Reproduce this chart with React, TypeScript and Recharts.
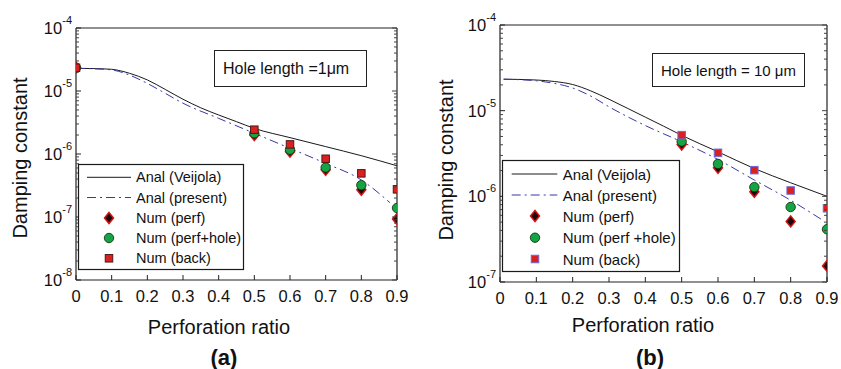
import React from "react";
import { ComposedChart, Line, Scatter, XAxis, YAxis, Legend, Label } from "recharts";

const FONT = '"Liberation Sans", Arial, Helvetica, sans-serif';
const H = 369;

const ratioTicks = [0, 0.1, 0.2, 0.3, 0.4, 0.5, 0.6, 0.7, 0.8, 0.9];
const decadesA = [1e-8, 1e-7, 1e-6, 1e-5, 1e-4];
const decadesB = [1e-7, 1e-6, 1e-5, 1e-4];
const mantissas = [2, 3, 4, 5, 6, 7, 8, 9];

// (a) hole length = 1 um
const veijolaXA = [0, 0.05, 0.1, 0.15, 0.2, 0.25, 0.3, 0.35, 0.4, 0.45, 0.5, 0.6, 0.7, 0.8, 0.9];
const veijolaA = [2.29e-5, 2.27e-5, 2.21e-5, 1.91e-5, 1.5e-5, 1.06e-5, 7.4e-6, 5.4e-6, 4.16e-6, 3.26e-6, 2.55e-6, 1.82e-6, 1.31e-6, 9.4e-7, 6.5e-7];
const presentXA = [0, 0.05, 0.1, 0.15, 0.2, 0.25, 0.3, 0.4, 0.5, 0.6, 0.7, 0.8, 0.88];
const presentA = [2.29e-5, 2.25e-5, 2.16e-5, 1.79e-5, 1.32e-5, 9.2e-6, 6.4e-6, 3.68e-6, 2.13e-6, 1.23e-6, 7.1e-7, 3.87e-7, 1.69e-7];
const numXA = [0, 0.5, 0.6, 0.7, 0.8, 0.9];
const perfA = [2.34e-5, 2.0e-6, 1.09e-6, 5.6e-7, 2.7e-7, 9.3e-8];
const holeA = [2.34e-5, 2.13e-6, 1.17e-6, 6.1e-7, 3.2e-7, 1.39e-7];
const backA = [2.34e-5, 2.43e-6, 1.42e-6, 8.4e-7, 4.93e-7, 2.75e-7];

// (b) hole length = 10 um
const veijolaXB = [0.01, 0.1, 0.15, 0.2, 0.25, 0.3, 0.35, 0.4, 0.45, 0.5, 0.6, 0.7, 0.8, 0.9];
const veijolaB = [2.33e-5, 2.28e-5, 2.19e-5, 2.02e-5, 1.7e-5, 1.36e-5, 1.07e-5, 8.4e-6, 6.6e-6, 5.15e-6, 3.31e-6, 2.11e-6, 1.44e-6, 1.0e-6];
const presentXB = [0.01, 0.1, 0.15, 0.2, 0.25, 0.3, 0.4, 0.5, 0.6, 0.7, 0.8, 0.89];
const presentB = [2.33e-5, 2.23e-5, 2.08e-5, 1.84e-5, 1.48e-5, 1.11e-5, 6.7e-6, 4.33e-6, 2.69e-6, 1.55e-6, 9.0e-7, 5.2e-7];
const numXB = [0.5, 0.6, 0.7, 0.8, 0.9];
const perfB = [4.03e-6, 2.15e-6, 1.13e-6, 5.1e-7, 1.54e-7];
const holeB = [4.36e-6, 2.39e-6, 1.28e-6, 7.5e-7, 4.13e-7];
const backB = [5.18e-6, 3.22e-6, 2.02e-6, 1.17e-6, 7.26e-7];

const zip = (xs: number[], ys: number[]) => xs.map((x, i) => ({ x, y: ys[i] }));

const isMajor = (v: number) => {
  const e = Math.log10(v);
  return Math.abs(e - Math.round(e)) < 1e-6;
};

const VEIJOLA = "#1a1a1a";
const PRESENT = "#3838a8";
const DASH = "9 4 2 4";

function Diamond({ cx, cy }: any) {
  if (cx == null || cy == null) return null;
  return (
    <path
      d={`M${cx},${cy - 5.5} L${cx + 4.5},${cy} L${cx},${cy + 5.5} L${cx - 4.5},${cy} Z`}
      fill="#1c0808"
      stroke="#d41414"
      strokeWidth={1.5}
    />
  );
}

function Dot({ cx, cy }: any) {
  if (cx == null || cy == null) return null;
  return <circle cx={cx} cy={cy} r={4.7} fill="#14a444" stroke="#143814" strokeWidth={0.9} />;
}

function makeSquare(edge: string, size: number) {
  return function Square({ cx, cy }: any) {
    if (cx == null || cy == null) return null;
    return (
      <rect
        x={cx - size / 2}
        y={cy - size / 2}
        width={size}
        height={size}
        fill="#dc2020"
        stroke={edge}
        strokeWidth={1}
      />
    );
  };
}

function BottomTick({ x, y, payload }: any) {
  const v = payload.value;
  return (
    <g>
      <line x1={x} y1={y} x2={x} y2={y - 5} stroke="#222" />
      <text x={x} y={y + 16} textAnchor="middle" dominantBaseline="central" fontSize={16.5} fontFamily={FONT} fill="#111">
        {v === 0 ? "0" : v.toFixed(1)}
      </text>
    </g>
  );
}

function TopTick({ x, y }: any) {
  return <line x1={x} y1={y} x2={x} y2={y + 5} stroke="#222" />;
}

function LeftTick({ x, y, payload }: any) {
  const v = payload.value;
  if (!isMajor(v)) return <line x1={x} y1={y} x2={x + 3} y2={y} stroke="#444" />;
  const exp = Math.round(Math.log10(v));
  return (
    <g>
      <line x1={x} y1={y} x2={x + 5} y2={y} stroke="#222" />
      <text x={x - 4} y={y} textAnchor="end" dominantBaseline="central" fontSize={16.5} fontFamily={FONT} fill="#111">
        10
        <tspan dy={-8} fontSize={11}>
          {exp}
        </tspan>
      </text>
    </g>
  );
}

function RightTick({ x, y, payload }: any) {
  const len = isMajor(payload.value) ? 5 : 3;
  return <line x1={x} y1={y} x2={x - len} y2={y} stroke="#444" />;
}

function LegendBox({ cfg }: any) {
  const { w, h, rows, lineX, markX, textX, fontSize, backEdge } = cfg.legend;
  const Sq = makeSquare(backEdge, 7.5);
  const labels = cfg.legendLabels;
  return (
    <svg width={w} height={h} style={{ display: "block", overflow: "visible" }}>
      <rect x={0.5} y={0.5} width={w - 1} height={h - 1} fill="#fff" stroke="#1a1a1a" strokeWidth={1.2} />
      <line x1={lineX[0]} x2={lineX[1]} y1={rows[0]} y2={rows[0]} stroke={VEIJOLA} />
      <line x1={lineX[0]} x2={lineX[1]} y1={rows[1]} y2={rows[1]} stroke={PRESENT} strokeDasharray={DASH} />
      <Diamond cx={markX} cy={rows[2]} />
      <Dot cx={markX} cy={rows[3]} />
      <Sq cx={markX} cy={rows[4]} />
      {labels.map((t: string, i: number) => (
        <text key={t} x={textX} y={rows[i]} dominantBaseline="central" fontSize={fontSize} fontFamily={FONT} fill="#111">
          {t}
        </text>
      ))}
    </svg>
  );
}

function Panel({ cfg }: any) {
  const { left, width, plot, majors } = cfg;
  // every axis is 1px thick, so the margins are trimmed by 1 to keep the plot box where it belongs
  const margin = { top: plot.top - 1, right: width - plot.right - 1, bottom: H - plot.bottom - 1, left: plot.left - 1 };
  const minors = majors.slice(0, -1).flatMap((d: number) => mantissas.map((m) => m * d));
  const yTicks = [...majors, ...minors];
  const domain = [majors[0], majors[majors.length - 1]];
  const Sq = makeSquare(cfg.legend.backEdge, 7.5);
  return (
    <div style={{ position: "absolute", left, top: 0, width, height: H }}>
      <ComposedChart width={width} height={H} margin={margin}>
        <XAxis
          type="number"
          dataKey="x"
          domain={[0, 0.9]}
          ticks={ratioTicks}
          interval={0}
          height={1}
          tickSize={0}
          tickMargin={0}
          tick={(p: any) => <BottomTick {...p} />}
          axisLine={{ stroke: "#222", strokeWidth: 1.2 }}
          allowDataOverflow
        >
          <Label
            content={() => (
              <g fontFamily={FONT} fill="#111">
                <text x={cfg.xTitle[0]} y={cfg.xTitle[1]} textAnchor="middle" dominantBaseline="central" fontSize={20}>
                  Perforation ratio
                </text>
                <text x={cfg.tag[0]} y={cfg.tag[1]} textAnchor="middle" dominantBaseline="central" fontSize={22} fontWeight="bold">
                  {cfg.tagText}
                </text>
              </g>
            )}
          />
        </XAxis>
        <XAxis
          xAxisId="top"
          orientation="top"
          type="number"
          domain={[0, 0.9]}
          ticks={ratioTicks}
          interval={0}
          height={1}
          tickSize={0}
          tickMargin={0}
          tick={(p: any) => <TopTick {...p} />}
          axisLine={{ stroke: "#222", strokeWidth: 1.2 }}
          allowDataOverflow
        />
        <YAxis
          type="number"
          dataKey="y"
          scale="log"
          domain={domain}
          ticks={yTicks}
          interval={0}
          width={1}
          tickSize={0}
          tickMargin={0}
          tick={(p: any) => <LeftTick {...p} />}
          axisLine={{ stroke: "#222", strokeWidth: 1.2 }}
          allowDataOverflow
        >
          <Label
            content={() => (
              <text
                transform={`translate(${cfg.yTitle[0]},${cfg.yTitle[1]}) rotate(-90)`}
                textAnchor="middle"
                dominantBaseline="central"
                fontSize={20}
                fontFamily={FONT}
                fill="#111"
              >
                Damping constant
              </text>
            )}
          />
        </YAxis>
        <YAxis
          yAxisId="right"
          orientation="right"
          type="number"
          scale="log"
          domain={domain}
          ticks={yTicks}
          interval={0}
          width={1}
          tickSize={0}
          tickMargin={0}
          tick={(p: any) => <RightTick {...p} />}
          axisLine={{ stroke: "#222", strokeWidth: 1.2 }}
          allowDataOverflow
        />
        <Line
          data={cfg.veijola}
          dataKey="y"
          type="monotone"
          stroke={VEIJOLA}
          strokeWidth={1}
          dot={false}
          isAnimationActive={false}
        />
        <Line
          data={cfg.present}
          dataKey="y"
          type="monotone"
          stroke={PRESENT}
          strokeWidth={1}
          strokeDasharray={DASH}
          dot={false}
          isAnimationActive={false}
        />
        <Scatter data={cfg.perf} shape={(p: any) => <Diamond {...p} />} isAnimationActive={false} />
        <Scatter data={cfg.hole} shape={(p: any) => <Dot {...p} />} isAnimationActive={false} />
        <Scatter data={cfg.back} shape={(p: any) => <Sq {...p} />} isAnimationActive={false} />
        <Legend
          layout="horizontal"
          verticalAlign="middle"
          align="center"
          wrapperStyle={{ left: cfg.legend.x, top: cfg.legend.y, width: cfg.legend.w, height: cfg.legend.h }}
          content={() => <LegendBox cfg={cfg} />}
        />
      </ComposedChart>
      <div
        style={{
          position: "absolute",
          left: cfg.note.x,
          top: cfg.note.y,
          width: cfg.note.w,
          height: cfg.note.h,
          boxSizing: "border-box",
          border: "1.2px solid #222",
          background: "#fff",
          fontFamily: FONT,
          fontSize: cfg.note.size,
          color: "#111",
          display: "flex",
          alignItems: "center",
          paddingLeft: cfg.note.pad,
          whiteSpace: "nowrap",
        }}
      >
        {cfg.note.text}
      </div>
    </div>
  );
}

const panelA = {
  left: 0,
  width: 420,
  plot: { left: 76, right: 397, top: 28, bottom: 280 },
  majors: decadesA,
  veijola: zip(veijolaXA, veijolaA),
  present: zip(presentXA, presentA),
  perf: zip(numXA, perfA),
  hole: zip(numXA, holeA),
  back: zip(numXA, backA),
  xTitle: [219, 327],
  tag: [224, 357],
  tagText: "(a)",
  yTitle: [20, 158],
  legendLabels: ["Anal (Veijola)", "Anal (present)", "Num (perf)", "Num (perf+hole)", "Num (back)"],
  legend: {
    x: 78, y: 164, w: 166, h: 106,
    rows: [13.3, 33.5, 54, 74, 94.3],
    lineX: [9, 53], markX: 31, textX: 58, fontSize: 14.5,
    backEdge: "#4a1a1a",
  },
  note: { x: 214, y: 50, w: 153, h: 37, size: 16, pad: 8, text: "Hole length =1\u03bcm" },
};

const panelB = {
  left: 420,
  width: 421,
  plot: { left: 80, right: 407, top: 25, bottom: 282 },
  majors: decadesB,
  veijola: zip(veijolaXB, veijolaB),
  present: zip(presentXB, presentB),
  perf: zip(numXB, perfB),
  hole: zip(numXB, holeB),
  back: zip(numXB, backB),
  xTitle: [223, 325],
  tag: [230, 357],
  tagText: "(b)",
  yTitle: [26, 160],
  legendLabels: ["Anal (Veijola)", "Anal (present)", "Num (perf)", "Num (perf +hole)", "Num (back)"],
  legend: {
    x: 82, y: 160, w: 178, h: 112,
    rows: [14, 35, 56, 77.7, 99],
    lineX: [9.7, 55.3], markX: 33, textX: 60.7, fontSize: 15,
    backEdge: "#6a6adc",
  },
  note: { x: 232, y: 53, w: 153, h: 34, size: 15, pad: 8, text: "Hole length = 10 \u03bcm" },
};

export default function App() {
  return (
    <div style={{ position: "absolute", left: 0, top: 0, width: 841, height: H, background: "#fff", overflow: "hidden" }}>
      <Panel cfg={panelA} />
      <Panel cfg={panelB} />
    </div>
  );
}
